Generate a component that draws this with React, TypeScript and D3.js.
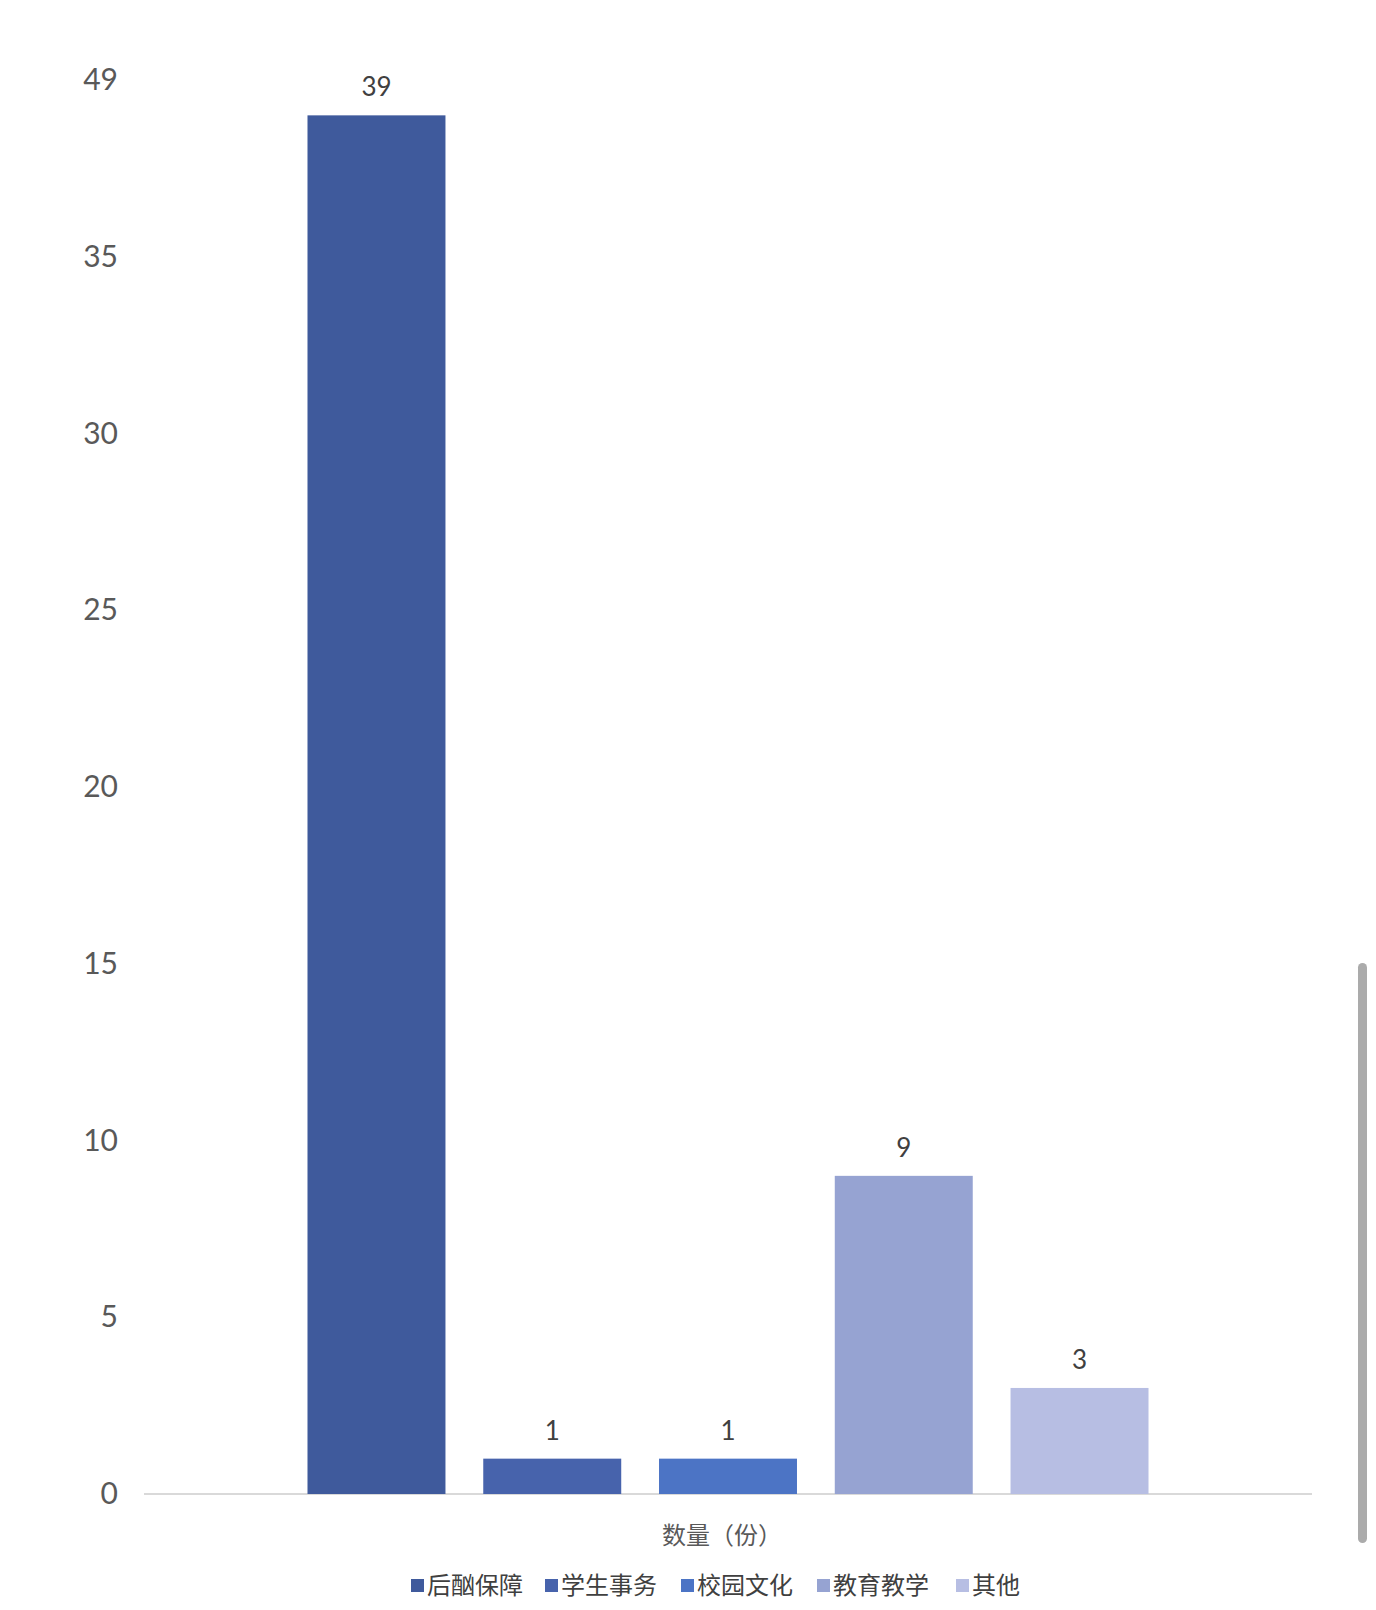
import React, { useEffect, useRef } from 'react';
import * as d3 from 'd3';

const categories = ['数量（份）'];
const seriesNames = ['后酗保障', '学生事务', '校园文化', '教育教学', '其他'];
const seriesValues = [39, 1, 1, 9, 3];
const seriesColors = ['#3F5A9C', '#4763AC', '#4C74C5', '#96A3D2', '#B7BEE3'];
const tickValues = [0, 5, 10, 15, 20, 25, 30, 35, 40];
const tickLabels = ['0', '5', '10', '15', '20', '25', '30', '35', '49'];

const W = 1376;
const H = 1610;

const App: React.FC = () => {
  const svgRef = useRef<SVGSVGElement | null>(null);

  useEffect(() => {
    if (!svgRef.current) return;
    const svg = d3.select(svgRef.current);
    svg.selectAll('*').remove();

    const x0 = d3.scaleBand().domain(categories).range([144, 1312]).paddingInner(0).paddingOuter(0.1944);
    const x1 = d3.scaleBand().domain(seriesNames).range([0, x0.bandwidth()]).paddingInner(0.215).paddingOuter(0);
    const y = d3.scaleLinear().domain([0, 40]).range([1494, 80]);

    svg.append('rect').attr('width', W).attr('height', H).attr('fill', '#ffffff');

    // y 轴刻度文字
    const yAxis = d3
      .axisLeft(y)
      .tickValues(tickValues)
      .tickSize(0)
      .tickPadding(0)
      .tickFormat((_d, i) => tickLabels[i]);
    const gy = svg.append('g').attr('transform', 'translate(118,0)').call(yAxis);
    gy.select('.domain').remove();
    gy.selectAll('text')
      .attr('fill', '#595959')
      .style('font-family', 'Lato, "Noto Sans", sans-serif')
      .style('font-size', '30px');

    // x 轴基线
    svg
      .append('line')
      .attr('x1', x0.range()[0])
      .attr('x2', x0.range()[1])
      .attr('y1', y(0))
      .attr('y2', y(0))
      .attr('stroke', '#D9D9D9')
      .attr('stroke-width', 2);

    const rows = seriesNames.map((name, i) => ({ name, value: seriesValues[i], color: seriesColors[i] }));
    const group = svg.append('g').attr('transform', `translate(${x0(categories[0])},0)`);

    group
      .selectAll('rect.bar')
      .data(rows)
      .enter()
      .append('rect')
      .attr('class', 'bar')
      .attr('x', (d) => x1(d.name) as number)
      .attr('y', (d) => y(d.value))
      .attr('width', x1.bandwidth())
      .attr('height', (d) => y(0) - y(d.value))
      .attr('fill', (d) => d.color);

    group
      .selectAll('text.val')
      .data(rows)
      .enter()
      .append('text')
      .attr('class', 'val')
      .attr('x', (d) => (x1(d.name) as number) + x1.bandwidth() / 2)
      .attr('y', (d) => y(d.value) - 19)
      .attr('text-anchor', 'middle')
      .attr('fill', '#404040')
      .style('font-family', 'Lato, "Noto Sans", sans-serif')
      .style('font-size', '26px')
      .text((d) => d.value);

    // 分类轴标题
    svg
      .append('text')
      .attr('x', (x0(categories[0]) as number) + x0.bandwidth() / 2 - 6)
      .attr('y', 1544)
      .attr('text-anchor', 'middle')
      .attr('fill', '#595959')
      .style('font-family', '"Noto Sans CJK SC", sans-serif')
      .style('font-size', '24px')
      .text(categories[0]);

    // 图例
    const legendX = [411, 545, 681, 817, 956];
    const legend = svg
      .selectAll('.legend')
      .data(rows)
      .enter()
      .append('g')
      .attr('class', 'legend')
      .attr('transform', (_d, i) => `translate(${legendX[i]},1586)`);
    legend
      .append('rect')
      .attr('x', 0)
      .attr('y', -7)
      .attr('width', 13)
      .attr('height', 13)
      .attr('fill', (d) => d.color);
    legend
      .append('text')
      .attr('x', 16)
      .attr('y', 0)
      .attr('dy', '0.35em')
      .attr('fill', '#404040')
      .style('font-family', '"Noto Sans CJK SC", sans-serif')
      .style('font-size', '24px')
      .text((d) => d.name);

    // 右侧滚动条
    svg
      .append('rect')
      .attr('x', 1358)
      .attr('y', 963)
      .attr('width', 9)
      .attr('height', 580)
      .attr('rx', 4.5)
      .attr('fill', '#ABABAB');
  }, []);

  return (
    <svg
      ref={svgRef}
      width={W}
      height={H}
      viewBox={`0 0 ${W} ${H}`}
      style={{ position: 'absolute', left: 0, top: 0 }}
    ></svg>
  );
};

export default App;
